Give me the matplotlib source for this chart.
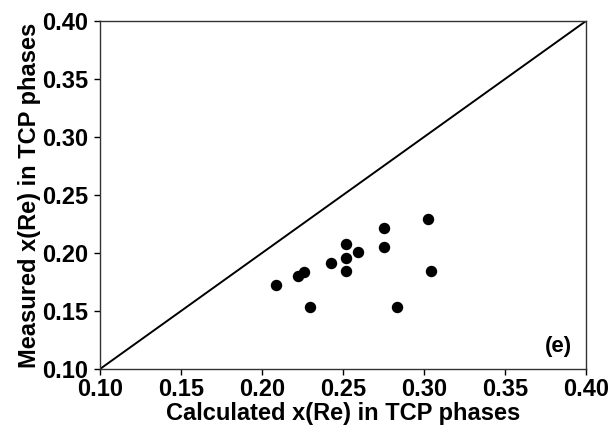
import numpy as np
import matplotlib
matplotlib.use("Agg")
import matplotlib.pyplot as plt

# values
calc_x = [0.2085, 0.2225, 0.2258, 0.2297, 0.2429, 0.2516, 0.2516, 0.2518,
          0.2590, 0.2751, 0.2751, 0.2833, 0.3026, 0.3042]
meas_x = [0.1725, 0.1802, 0.1834, 0.1538, 0.1912, 0.2081, 0.1958, 0.1849,
          0.2010, 0.2217, 0.2056, 0.1538, 0.2289, 0.1843]
ticks = [0.10, 0.15, 0.20, 0.25, 0.30, 0.35, 0.40]
tick_labels = ["0.10", "0.15", "0.20", "0.25", "0.30", "0.35", "0.40"]

plt.rcParams['font.family'] = ['Liberation Sans', 'DejaVu Sans']

fig = plt.figure(figsize=(6.11, 4.36), dpi=100)
ax = fig.add_axes([100/611, 1 - 369/436, 486/611, 348/436])

# line y = x
ax.plot([ticks[0], ticks[-1]], [ticks[0], ticks[-1]], color='black', lw=1.4)
ax.scatter(calc_x, meas_x, s=52, color='black', zorder=3)

ax.set_xlim(ticks[0], ticks[-1])
ax.set_ylim(ticks[0], ticks[-1])
ax.set_xticks(ticks)
ax.set_xticklabels(tick_labels)
ax.set_yticks(ticks)
ax.set_yticklabels(tick_labels)
ax.tick_params(direction='out', length=4, width=1, labelsize=17)
ax.tick_params(axis='x', pad=2.5)
ax.tick_params(axis='y', pad=4.5)
for lab in ax.get_xticklabels() + ax.get_yticklabels():
    lab.set_fontweight('bold')
for sp in ax.spines.values():
    sp.set_linewidth(1.0)
    sp.set_color('#333333')

ax.set_xlabel("Calculated x(Re) in TCP phases", fontsize=17, fontweight='bold', labelpad=1)
ax.set_ylabel("Measured x(Re) in TCP phases", fontsize=17, fontweight='bold', labelpad=1)

ax.text(0.972, 0.035, "(e)", transform=ax.transAxes, ha='right', va='bottom',
        fontsize=16, fontweight='bold')

fig.savefig("out.png", dpi=100)
